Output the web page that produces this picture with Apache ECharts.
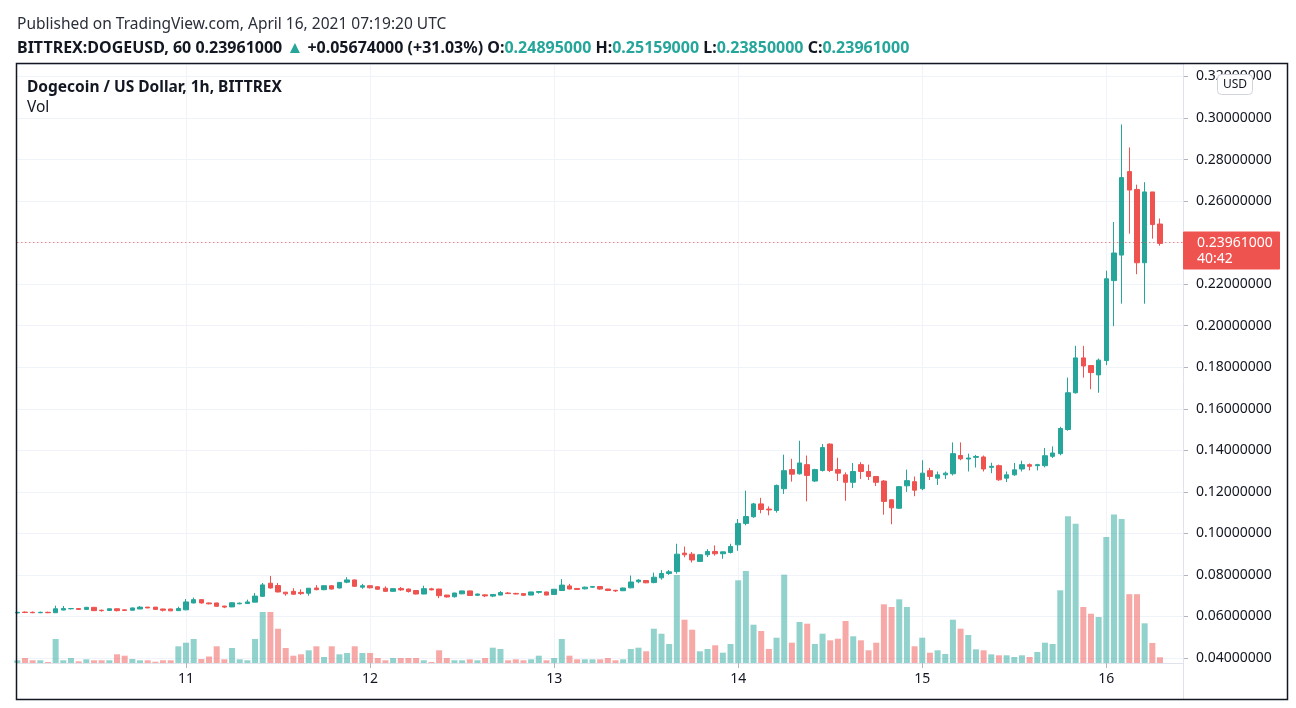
<!DOCTYPE html>
<html><head><meta charset="utf-8">
<script src="https://cdn.jsdelivr.net/npm/echarts@6/dist/echarts.min.js"></script>
<style>html,body{margin:0;padding:0;background:#fff}#c{width:1296px;height:708px}</style>
</head><body><div id="c"></div>
<script>
// Hourly candles, BITTREX:DOGEUSD, starting 2021-04-10 02:00 UTC
const startTime = Date.UTC(2021, 3, 10, 2);
const emptySlots = 3; // empty hours to the right of the last candle

const opens = [
0.0617,0.0621,0.0620,0.0618,0.0620,0.0618,0.0631,0.0637,0.0638,0.0634,
0.0644,0.0630,0.0629,0.0637,0.0632,0.0630,0.0636,0.0645,0.0645,0.0636,
0.0636,0.0628,0.0632,0.0665,0.0681,0.0665,0.0665,0.0650,0.0646,0.0661,
0.0662,0.0669,0.0697,0.0760,0.0749,0.0717,0.0721,0.0716,0.0712,0.0737,
0.0729,0.0748,0.0737,0.0765,0.0776,0.0741,0.0748,0.0743,0.0736,0.0721,
0.0735,0.0732,0.0725,0.0708,0.0733,0.0732,0.0703,0.0695,0.0709,0.0723,
0.0702,0.0704,0.0698,0.0703,0.0713,0.0711,0.0710,0.0703,0.0716,0.0718,
0.0706,0.0725,0.0747,0.0735,0.0733,0.0741,0.0744,0.0732,0.0726,0.0724,
0.0738,0.0767,0.0773,0.0763,0.0786,0.0807,0.0816,0.0905,0.0900,0.0865,
0.0897,0.0913,0.0902,0.0908,0.0945,0.1048,0.1080,0.1142,0.1117,0.1110,
0.1215,0.1307,0.1287,0.1331,0.1252,0.1303,0.1430,0.1307,0.1282,0.1246,
0.1331,0.1298,0.1274,0.1252,0.1162,0.1121,0.1229,0.1249,0.1215,0.1302,
0.1266,0.1282,0.1287,0.1375,0.1358,0.1366,0.1368,0.1318,0.1326,0.1266,
0.1282,0.1310,0.1331,0.1326,0.1326,0.1371,0.1384,0.1500,0.1677,0.1845,
0.1808,0.1763,0.1832,0.2217,0.2340,0.2742,0.2656,0.2303,0.2644,0.24895];

const closes = [
0.0620,0.0619,0.0618,0.0620,0.0618,0.0637,0.0638,0.0638,0.0634,0.0644,
0.0628,0.0628,0.0637,0.0628,0.0629,0.0641,0.0645,0.0641,0.0634,0.0630,
0.0627,0.0638,0.0670,0.0681,0.0665,0.0661,0.0649,0.0645,0.0666,0.0664,
0.0670,0.0698,0.0752,0.0737,0.0718,0.0709,0.0707,0.0710,0.0736,0.0729,
0.0748,0.0732,0.0764,0.0776,0.0745,0.0748,0.0738,0.0731,0.0721,0.0734,
0.0728,0.0720,0.0708,0.0734,0.0728,0.0700,0.0694,0.0713,0.0723,0.0701,
0.0708,0.0699,0.0706,0.0715,0.0710,0.0708,0.0702,0.0718,0.0720,0.0703,
0.0731,0.0751,0.0732,0.0730,0.0741,0.0744,0.0732,0.0725,0.0723,0.0737,
0.0766,0.0775,0.0762,0.0789,0.0807,0.0815,0.0900,0.0897,0.0872,0.0897,
0.0913,0.0902,0.0911,0.0937,0.1048,0.1081,0.1142,0.1115,0.1113,0.1231,
0.1302,0.1285,0.1339,0.1279,0.1307,0.1413,0.1303,0.1290,0.1246,0.1298,
0.1298,0.1274,0.1246,0.1154,0.1123,0.1225,0.1254,0.1208,0.1290,0.1274,
0.1282,0.1290,0.1384,0.1359,0.1363,0.1370,0.1310,0.1323,0.1258,0.1282,
0.1306,0.1331,0.1323,0.1331,0.1374,0.1387,0.1505,0.1677,0.1845,0.1806,
0.1774,0.1834,0.2226,0.2350,0.2713,0.2653,0.2303,0.2644,0.2487,0.23961];

const lows = [
0.0615,0.0616,0.0616,0.0616,0.0616,0.0617,0.0630,0.0634,0.0632,0.0633,
0.0626,0.0623,0.0628,0.0624,0.0627,0.0629,0.0635,0.0640,0.0633,0.0624,
0.0626,0.0627,0.0630,0.0663,0.0662,0.0658,0.0648,0.0640,0.0645,0.0659,
0.0661,0.0668,0.0695,0.0735,0.0716,0.0700,0.0705,0.0704,0.0700,0.0726,
0.0726,0.0730,0.0735,0.0760,0.0743,0.0733,0.0735,0.0729,0.0719,0.0720,
0.0723,0.0715,0.0706,0.0707,0.0726,0.0688,0.0691,0.0691,0.0707,0.0699,
0.0698,0.0693,0.0693,0.0702,0.0708,0.0706,0.0698,0.0702,0.0710,0.0702,
0.0705,0.0723,0.0730,0.0728,0.0730,0.0738,0.0728,0.0722,0.0718,0.0722,
0.0736,0.0760,0.0760,0.0760,0.0777,0.0800,0.0806,0.0885,0.0860,0.0863,
0.0886,0.0893,0.0878,0.0903,0.0916,0.1039,0.1075,0.1097,0.1087,0.1100,
0.1190,0.1249,0.1283,0.1154,0.1247,0.1298,0.1295,0.1252,0.1157,0.1218,
0.1262,0.1257,0.1228,0.1090,0.1044,0.1118,0.1200,0.1179,0.1208,0.1257,
0.1233,0.1262,0.1279,0.1352,0.1298,0.1317,0.1298,0.1290,0.1253,0.1247,
0.1277,0.1298,0.1303,0.1303,0.1318,0.1363,0.1376,0.1494,0.1673,0.1750,
0.1694,0.1677,0.1810,0.1998,0.2106,0.2443,0.2248,0.2106,0.2419,0.2385];

const highs = [
0.0622,0.0624,0.0624,0.0623,0.0623,0.0652,0.0650,0.0641,0.0639,0.0646,
0.0645,0.0633,0.0638,0.0638,0.0634,0.0643,0.0650,0.0646,0.0646,0.0637,
0.0637,0.0647,0.0684,0.0691,0.0683,0.0667,0.0666,0.0651,0.0668,0.0667,
0.0681,0.0713,0.0761,0.0795,0.0761,0.0718,0.0736,0.0731,0.0737,0.0751,
0.0750,0.0750,0.0766,0.0789,0.0778,0.0757,0.0750,0.0745,0.0745,0.0736,
0.0742,0.0734,0.0727,0.0748,0.0738,0.0733,0.0704,0.0714,0.0724,0.0724,
0.0710,0.0706,0.0708,0.0722,0.0718,0.0714,0.0711,0.0719,0.0722,0.0719,
0.0732,0.0780,0.0757,0.0737,0.0744,0.0746,0.0745,0.0733,0.0728,0.0739,
0.0797,0.0780,0.0774,0.0811,0.0823,0.0824,0.0950,0.0937,0.0910,0.0899,
0.0924,0.0942,0.0913,0.0950,0.1069,0.1206,0.1147,0.1171,0.1130,0.1235,
0.1379,0.1359,0.1446,0.1375,0.1311,0.1430,0.1433,0.1364,0.1294,0.1339,
0.1343,0.1331,0.1276,0.1257,0.1162,0.1228,0.1307,0.1274,0.1352,0.1315,
0.1298,0.1298,0.1438,0.1438,0.1384,0.1378,0.1375,0.1340,0.1331,0.1298,
0.1339,0.1350,0.1337,0.1335,0.1411,0.1419,0.1513,0.1750,0.1903,0.1903,
0.1808,0.1842,0.2265,0.2499,0.2969,0.2858,0.2679,0.2691,0.2644,0.25159];

// volume (relative units)
const volumes = [
2.7,5,2.7,2.7,1,24,2.7,5,1.7,3.7,
2.7,2.7,2.7,8.7,7.3,4,2.7,2.7,1.3,2.7,
2.7,16.7,20.3,24,4,6.5,16.7,3.7,15,3.7,
2.7,24,51,51,34.3,15,7.3,8.7,12.7,16.7,
6,16.7,8.7,10,16.7,10,10,5,2.7,5,
5,5,5,2.7,1,12.7,5,2.7,2.7,3.7,
2.7,5,15.3,14,2.7,3.7,2.7,3.7,7.3,2.7,
5,24,7.3,3.7,3.7,3.7,3.7,5,2.7,3.7,
14,15.3,11.7,34.3,29.3,19,88,43.3,33.3,11.7,
14,17.7,10.3,19,82.7,92,38.3,32,14,25.3,
88.3,20.3,41,39.3,19,29.3,22.7,24.3,42,26.7,
22.7,12.7,20.3,58.7,56,63.7,56,16.7,25.3,10.3,
12.7,9,43.3,34.3,28,13.7,12.7,8.7,7.7,7.7,
6,7.7,6,11,20.3,19,72.7,146.7,139.3,56,
49.3,46,126,148.6,144,68.8,68.8,39.7,20,5.7];

const priceMin = 0.04, priceStep = 0.02, priceMax = 0.326;
const volumeMax = 300;
const countdown = '40:42';

const UP = '#26a69a', DOWN = '#ef5350';
const UPV = 'rgba(38,166,154,0.5)', DOWNV = 'rgba(239,83,80,0.5)';
const FONT = '"Noto Sans", "Open Sans", sans-serif';

const categories = [];
for (let i = 0; i < opens.length + emptySlots; i++) {
  const d = new Date(startTime + i * 3600000);
  categories.push(d.getUTCDate() + ' ' + String(d.getUTCHours()).padStart(2, '0') + ':00');
}
const isDayStart = (idx, v) => String(v).endsWith(' 00:00');

const candleData = opens.map((o, i) => [o, closes[i], lows[i], highs[i]]);
const volData = volumes.map((v, i) => ({
  value: v,
  itemStyle: { color: closes[i] >= opens[i] ? UPV : DOWNV }
}));
const lastClose = closes[closes.length - 1];

const chart = echarts.init(document.getElementById('c'), null, { renderer: 'canvas' });
const gridL = 17.3, gridR = 1296 - 1183;

const frameGraphics = [
  { type: 'line', silent: true, z: 50, shape: { x1: 1183.5, y1: 64, x2: 1183.5, y2: 699 },
    style: { stroke: '#e0e3eb', lineWidth: 1 } },
  { type: 'rect', silent: true, z: 100, shape: { x: 16.5, y: 63.5, width: 1271, height: 636 },
    style: { fill: 'none', stroke: '#131722', lineWidth: 1.5 } },
  { type: 'rect', silent: true, z: 90, shape: { x: 1217.5, y: 74.5, width: 35, height: 20, r: 4 },
    style: { fill: '#ffffff', stroke: '#d1d4dc', lineWidth: 1 } },
  { type: 'text', silent: true, z: 91, x: 1235, y: 84.5,
    style: { text: 'USD', fill: '#131722', font: '12px ' + FONT, textAlign: 'center', textVerticalAlign: 'middle' } }
];

chart.setOption({
  animation: false,
  backgroundColor: '#ffffff',
  textStyle: { fontFamily: FONT },
  title: [
    { left: 17, top: 17, padding: 0, text: 'Published on TradingView.com, April 16, 2021 07:19:20 UTC',
      textStyle: { fontSize: 15.5, fontWeight: 'normal', color: '#2a2e39', fontFamily: FONT } },
    { left: 17, top: 40, padding: 0,
      text: '{b|BITTREX:DOGEUSD, 60} {n|0.23961000} {u|▲} {n|+0.05674000 (+31.03%)} {b|O:}{v|0.24895000} {b|H:}{v|0.25159000} {b|L:}{v|0.23850000} {b|C:}{v|0.23961000}',
      textStyle: { fontSize: 16, fontFamily: FONT, rich: {
        b: { fontSize: 16, fontWeight: 'bold', color: '#131722', fontFamily: FONT },
        n: { fontSize: 16, color: '#131722', fontFamily: FONT },
        u: { fontSize: 17, color: UP, fontFamily: FONT },
        v: { fontSize: 16, color: UP, fontFamily: FONT }
      } } },
    { left: 27, top: 80, padding: 0, text: 'Dogecoin / US Dollar, 1h, BITTREX',
      textStyle: { fontSize: 15.5, fontWeight: 'bold', color: '#131722', fontFamily: FONT } },
    { left: 27, top: 100, padding: 0, text: 'Vol',
      textStyle: { fontSize: 15.5, fontWeight: 'normal', color: '#131722', fontFamily: FONT } }
  ],
  grid: [
    { left: gridL, right: gridR, top: 64, bottom: 708 - 658 },
    { left: gridL, right: gridR, top: 363, bottom: 708 - 663 }
  ],
  xAxis: [
    { type: 'category', gridIndex: 0, data: categories, boundaryGap: false,
      axisLine: { show: false }, axisTick: { show: false }, axisLabel: { show: false },
      splitLine: { show: true, interval: isDayStart, lineStyle: { color: '#f0f3fa', width: 1 } } },
    { type: 'category', gridIndex: 1, data: categories, boundaryGap: false,
      axisLine: { show: true, lineStyle: { color: '#e0e3eb' } },
      axisTick: { show: true, interval: isDayStart, length: 5, lineStyle: { color: '#b2b5be' } },
      axisLabel: { show: true, interval: isDayStart, margin: 9, fontSize: 14, color: '#131722', fontFamily: FONT,
        formatter: v => v.split(' ')[0] },
      splitLine: { show: true, interval: isDayStart, lineStyle: { color: '#f0f3fa', width: 1 } } }
  ],
  yAxis: [
    { type: 'value', gridIndex: 0, position: 'right', min: priceMin, max: priceMax, interval: priceStep,
      axisLine: { show: false },
      axisTick: { show: true, length: 5, lineStyle: { color: '#b2b5be' } },
      axisLabel: { margin: 13, fontSize: 14, color: '#131722', fontFamily: FONT, showMaxLabel: false,
        formatter: v => v.toFixed(8) },
      splitLine: { show: true, lineStyle: { color: '#f0f3fa', width: 1 } } },
    { type: 'value', gridIndex: 1, min: 0, max: volumeMax, show: false,
      axisLine: { show: false }, axisLabel: { show: false }, splitLine: { show: false } }
  ],
  series: [
    { type: 'bar', xAxisIndex: 1, yAxisIndex: 1, data: volData, barWidth: 6, z: 1 },
    { type: 'candlestick', xAxisIndex: 0, yAxisIndex: 0, data: candleData, barWidth: 5, z: 3,
      itemStyle: { color: UP, color0: DOWN, borderColor: UP, borderColor0: DOWN, borderWidth: 1 },
      markLine: {
        silent: true, symbol: ['none', 'none'], animation: false,
        lineStyle: { color: DOWN, type: [1, 3], width: 1 },
        label: { show: false },
        data: [{ yAxis: lastClose }]
      } }
  ],
  graphic: frameGraphics
});

// last-price tag on the price scale, placed through the axis scale
const py = chart.convertToPixel({ yAxisIndex: 0 }, lastClose);
chart.setOption({
  graphic: frameGraphics.concat([
    { type: 'rect', silent: true, z: 80, shape: { x: 1183, y: py - 12, width: 97, height: 38, r: 1 },
      style: { fill: DOWN } },
    { type: 'text', silent: true, z: 81, x: 1197, y: py,
      style: { text: lastClose.toFixed(8), fill: '#ffffff', font: '14px ' + FONT, textVerticalAlign: 'middle' } },
    { type: 'text', silent: true, z: 81, x: 1197, y: py + 16,
      style: { text: countdown, fill: '#ffffff', font: '14px ' + FONT, textVerticalAlign: 'middle' } }
  ])
}, { replaceMerge: ['graphic'] });
</script></body></html>
